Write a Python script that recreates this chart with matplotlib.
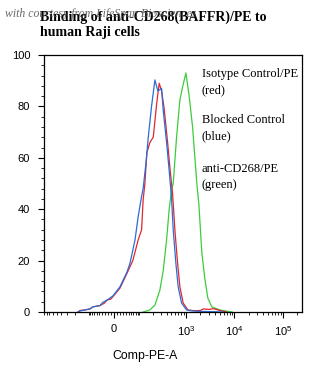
import numpy as np
import matplotlib
matplotlib.use("Agg")
from matplotlib import pyplot as plt
from matplotlib.ticker import FixedLocator, MultipleLocator

plt.rcParams['font.family'] = ['Liberation Sans', 'DejaVu Sans']
plt.rcParams['mathtext.fontset'] = 'custom'
plt.rcParams['mathtext.rm'] = 'Liberation Sans'
plt.rcParams['mathtext.it'] = 'Liberation Sans'

# histogram traces (fluorescence value, % of max)
red_x = [-175, -158, -122, -92, -77, -47, -30, -22, -10, -3, 19, 43, 67, 93, 113,
         123, 135, 150, 175, 207, 245, 278, 312, 354, 417, 472, 530, 591, 673, 751,
         878, 1100, 1500, 2000, 2300, 3000, 3700, 4400, 5500, 7000]
red_y = [0, 0.6, 0.8, 1.2, 2.0, 2.5, 3.5, 4.7, 5.0, 6.0, 9.3, 15, 20, 28, 32,
         43.6, 50, 62, 66, 68, 81, 89, 86, 79, 66, 55, 46, 32, 19, 9.8,
         3.5, 0.8, 0.5, 0.6, 1.2, 1.0, 1.3, 0.9, 0.4, 0]

blue_x = [-175, -158, -122, -92, -77, -47, -36, -22, -3, 19, 43, 55, 77, 93, 113,
          123, 143, 161, 190, 225, 260, 312, 337, 397, 450, 505, 546, 620, 692, 814,
          1033, 1250, 1700, 2500, 4000, 6000]
blue_y = [0, 0.4, 0.8, 1.2, 2.0, 2.5, 3.8, 4.6, 6.3, 9.8, 15.5, 19, 28, 37, 45,
          48, 58, 68, 80, 90.3, 86, 87, 78.6, 66, 55, 44, 32, 19, 9.8, 3.5,
          0.8, 0.5, 0.3, 0.2, 0.1, 0]

green_x = [123, 175, 225, 287, 337, 397, 450, 505, 546, 641, 751, 853, 1000, 1169,
           1375, 1684, 1854, 2137, 2463, 2840, 3434, 5024, 7000, 9000]
green_y = [0, 0.8, 2.7, 8.5, 16, 28, 40, 47.5, 50, 68, 82.5, 87.5, 93, 84,
           72, 50, 42, 23, 13, 5.4, 2, 0.8, 0.3, 0]

x_ticks = [0, 1e3, 1e4, 1e5]
x_ticklabels = ['0', '$10^3$', '$10^4$', '$10^5$']
x_minor = ([-v for v in range(100, 1000, 100)] + [-v for v in range(10, 100, 10)]
           + list(range(10, 100, 10)) + list(range(100, 1000, 100))
           + list(range(2000, 10000, 1000)) + list(range(20000, 100000, 10000))
           + [200000])

legend_texts = ["Isotype Control/PE\n(red)", "Blocked Control\n(blue)",
                "anti-CD268/PE\n(green)"]

c = 65.5


def fwd(v):
    return np.arcsinh(np.asarray(v) / c)


def inv(u):
    return c * np.sinh(np.asarray(u))


fig = plt.figure(figsize=(3.25, 3.68), dpi=100)
ax = fig.add_axes([44 / 325, 1 - 312 / 368, 258 / 325, 257 / 368])
ax.set_xscale('function', functions=(fwd, inv))

ax.plot(green_x, green_y, color='#3ccc3c', lw=0.9)
ax.plot(red_x, red_y, color='#e0262e', lw=0.9)
ax.plot(blue_x, blue_y, color='#2a6cd8', lw=0.9)

ax.set_xlim(-910, 250000)
ax.set_ylim(0, 100)

ax.xaxis.set_major_locator(FixedLocator(x_ticks))
ax.set_xticklabels(x_ticklabels)
ax.xaxis.set_minor_locator(FixedLocator(x_minor))
ax.yaxis.set_major_locator(MultipleLocator(20))
ax.yaxis.set_minor_locator(MultipleLocator(4))

ax.tick_params(which='major', direction='out', length=4, width=0.8,
               labelsize=8, pad=5)
ax.tick_params(which='minor', direction='out', length=2.2, width=0.6)
ax.tick_params(axis='y', which='major', pad=6)
for s in ax.spines.values():
    s.set_linewidth(0.9)

ax.set_xlabel("Comp-PE-A", fontsize=8.8)
ax.xaxis.set_label_coords(0.39, -0.148)

ys = [0.895, 0.714, 0.527]
for t, y in zip(legend_texts, ys):
    ax.text(0.612, y, t, transform=ax.transAxes, ha='left', va='center',
            fontsize=9, family='Liberation Serif', linespacing=1.45)

fig.text(40 / 325, 1 - 11 / 368, "Binding of anti-CD268(BAFFR)/PE to\nhuman Raji cells",
         ha='left', va='top', fontsize=10, fontweight='bold',
         family='Liberation Serif', linespacing=1.15)
fig.text(5 / 325, 1 - 17 / 368, "with courtesy from LifeSpan Biosciences",
         ha='left', va='baseline', fontsize=8.5, style='italic',
         family='Liberation Serif', color='#505050', alpha=0.85)

fig.savefig("out.png", dpi=100)
